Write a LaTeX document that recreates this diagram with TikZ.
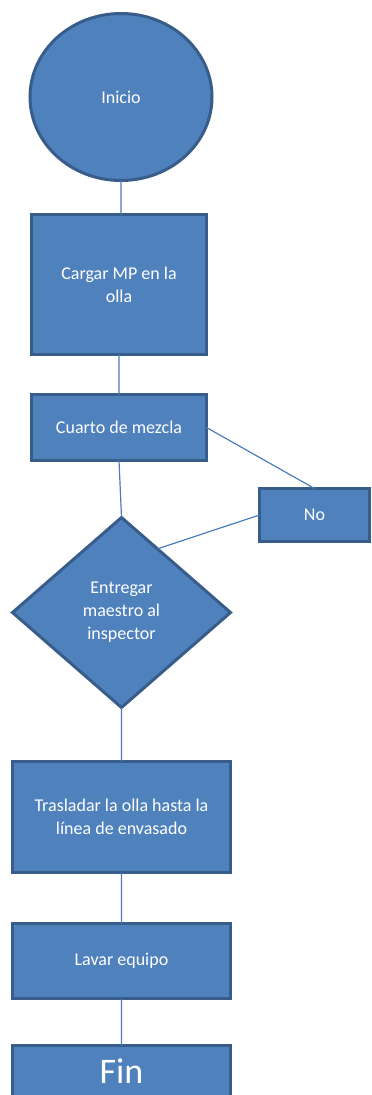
\documentclass[tikz,border=0pt]{standalone}
\usepackage{fontspec}
\setmainfont{Carlito}
\usetikzlibrary{shapes.geometric,calc}
\definecolor{fillblue}{HTML}{4F81BD}
\definecolor{edgeblue}{HTML}{385D8A}
\definecolor{lineblue}{HTML}{4A7EBB}
\begin{document}
\begin{tikzpicture}[x=1pt,y=-1pt,
  block/.style={draw=edgeblue, fill=fillblue, line width=3pt, text=white,
    font=\fontsize{18}{23}\selectfont, align=center, inner sep=0pt, outer sep=0pt},
  link/.style={draw=lineblue, line width=1.2pt}]
\useasboundingbox (0,0) rectangle (372,1095);

\node (0) at (121,97) [block, ellipse, minimum width=182pt, minimum height=167pt] {Inicio};
\node (1) at (119,284.5) [block, minimum width=175pt, minimum height=140pt] {Cargar MP en la\\olla};
\node (2) at (119,427.5) [block, minimum width=175pt, minimum height=66pt] {Cuarto de mezcla};
\node (3) at (121.5,612.5) [block, diamond, aspect=1.15, minimum width=218pt, minimum height=190pt] {Entregar\\maestro al\\inspector};
\node (4) at (314.5,515) [block, minimum width=110pt, minimum height=53pt] {No};
\node (5) at (121.5,817) [block, minimum width=218pt, minimum height=111pt] {Trasladar la olla hasta la\\línea de envasado};
\node (6) at (121.5,961) [block, minimum width=218pt, minimum height=75pt] {Lavar equipo};
\node (7) at (121.5,1071) [block, minimum width=218pt, minimum height=51pt, font=\fontsize{36}{40}\selectfont] {Fin};

\draw[link]
(0.south) to (0.south |- 1.north)
(1) to (2)
(2.south) to (3.north)
(2.east) to (4.north)
(4.west) to ($(3.north)!0.33!(3.east)$)
(3.south) to (3.south |- 5.north)
(5) to (6)
(6) to (7);
\end{tikzpicture}
\end{document}
